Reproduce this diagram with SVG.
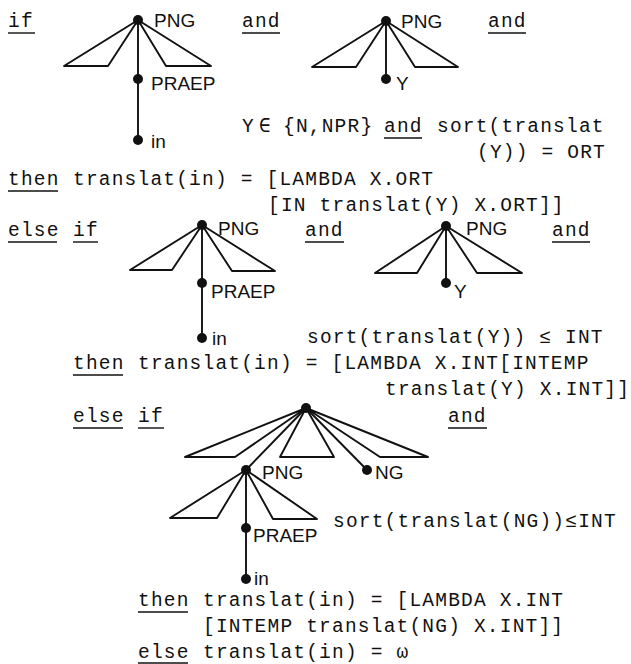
<svg xmlns="http://www.w3.org/2000/svg" width="631" height="664" viewBox="0 0 631 664">
<style>
.m{font-family:"Liberation Mono","Courier New",monospace;font-size:19.5px;letter-spacing:1.2px;fill:#111}
.s{font-family:"Liberation Sans",Arial,sans-serif;font-size:19px;fill:#111}
.ul{stroke:#111;stroke-width:1.4}
.e{stroke:#111;stroke-width:1.9;fill:none;stroke-linejoin:round}
.d{fill:#111}
</style>
<rect width="631" height="664" fill="#fff"/>
<g id="connectors">
<polygon class="e" points="138,20 64,66 108,66"/>
<polygon class="e" points="138,20 166,66 211,66"/>
<line class="e" x1="138" y1="20" x2="138" y2="140"/>
<polygon class="e" points="386,21 312,67 356,67"/>
<polygon class="e" points="386,21 415,67 458,67"/>
<line class="e" x1="386" y1="21" x2="386" y2="79"/>
<polygon class="e" points="202,225 130,270 172,270"/>
<polygon class="e" points="202,225 232,271 275,271"/>
<line class="e" x1="202" y1="225" x2="202" y2="338"/>
<polygon class="e" points="446,226 375,273 417,273"/>
<polygon class="e" points="446,226 477,273 522,273"/>
<line class="e" x1="446" y1="226" x2="446" y2="283"/>
<polygon class="e" points="306,408 185,457 235,457"/>
<line class="e" x1="306" y1="408" x2="246" y2="470"/>
<polygon class="e" points="306,408 280,457 334,457"/>
<line class="e" x1="306" y1="408" x2="367" y2="470"/>
<polygon class="e" points="306,408 380,457 428,457"/>
<polygon class="e" points="246,470 170,518 217,518"/>
<polygon class="e" points="246,470 273,519 317,519"/>
<line class="e" x1="246" y1="470" x2="246" y2="579"/>
</g>
<g id="t1-png"><circle class="d" cx="138" cy="20" r="5"/><text class="s" x="154" y="27">PNG</text></g>
<g id="t1-praep"><circle class="d" cx="138" cy="79" r="5"/><text class="s" x="151" y="90">PRAEP</text></g>
<g id="t1-in"><circle class="d" cx="138" cy="140" r="5"/><text class="s" x="151" y="148">in</text></g>
<g id="t2-png"><circle class="d" cx="386" cy="21" r="5"/><text class="s" x="401" y="28">PNG</text></g>
<g id="t2-y"><circle class="d" cx="386" cy="79" r="5"/><text class="s" x="396" y="90">Y</text></g>
<g id="t3-png"><circle class="d" cx="202" cy="225" r="5"/><text class="s" x="218" y="235">PNG</text></g>
<g id="t3-praep"><circle class="d" cx="202" cy="283" r="5"/><text class="s" x="211" y="298">PRAEP</text></g>
<g id="t3-in"><circle class="d" cx="202" cy="338" r="5"/><text class="s" x="212" y="345">in</text></g>
<g id="t4-png"><circle class="d" cx="446" cy="226" r="5"/><text class="s" x="466" y="235">PNG</text></g>
<g id="t4-y"><circle class="d" cx="446" cy="283" r="5"/><text class="s" x="454" y="298">Y</text></g>
<g id="t5-root"><circle class="d" cx="306" cy="408" r="5"/></g>
<g id="t5-png"><circle class="d" cx="246" cy="470" r="5"/><text class="s" x="262" y="479">PNG</text></g>
<g id="t5-ng"><circle class="d" cx="367" cy="470" r="5"/><text class="s" x="375" y="479">NG</text></g>
<g id="t5-praep"><circle class="d" cx="246" cy="528" r="5"/><text class="s" x="253" y="542">PRAEP</text></g>
<g id="t5-in"><circle class="d" cx="246" cy="579" r="5"/><text class="s" x="254" y="585">in</text></g>
<g id="text">
<text class="m" x="8" y="27">if</text><line class="ul" x1="8" y1="33" x2="35" y2="33"/>
<text class="m" x="242" y="27">and</text><line class="ul" x1="242" y1="33" x2="280" y2="33"/>
<text class="m" x="488" y="27">and</text><line class="ul" x1="488" y1="33" x2="526" y2="33"/>
<text class="m" x="242" y="132">Y</text>
<text class="m" x="259" y="132">∈</text>
<text class="m" x="283" y="132">{N,NPR}</text>
<text class="m" x="384" y="132">and</text><line class="ul" x1="384" y1="138" x2="422" y2="138"/>
<text class="m" x="437" y="132">sort(translat</text>
<text class="m" x="477" y="158">(Y)) = ORT</text>
<text class="m" x="8" y="185">then</text><line class="ul" x1="8" y1="191" x2="58" y2="191"/>
<text class="m" x="73" y="185">translat(in) = [LAMBDA X.ORT</text>
<text class="m" x="268" y="211">[IN translat(Y) X.ORT]]</text>
<text class="m" x="8" y="236">else</text><line class="ul" x1="8" y1="242" x2="57" y2="242"/>
<text class="m" x="73" y="236">if</text><line class="ul" x1="73" y1="242" x2="98" y2="242"/>
<text class="m" x="305" y="236">and</text><line class="ul" x1="305" y1="242" x2="344" y2="242"/>
<text class="m" x="552" y="236">and</text><line class="ul" x1="552" y1="242" x2="590" y2="242"/>
<text class="m" x="307" y="343">sort(translat(Y)) ≤ INT</text>
<text class="m" x="73" y="369">then</text><line class="ul" x1="73" y1="375" x2="123" y2="375"/>
<text class="m" x="138" y="369">translat(in) = [LAMBDA X.INT[INTEMP</text>
<text class="m" x="385" y="395">translat(Y) X.INT]]</text>
<text class="m" x="73" y="422">else</text><line class="ul" x1="73" y1="428" x2="123" y2="428"/>
<text class="m" x="138" y="422">if</text><line class="ul" x1="138" y1="428" x2="164" y2="428"/>
<text class="m" x="448" y="422">and</text><line class="ul" x1="448" y1="428" x2="487" y2="428"/>
<text class="m" x="333" y="527">sort(translat(NG))≤INT</text>
<text class="m" x="138" y="606">then</text><line class="ul" x1="138" y1="612" x2="188" y2="612"/>
<text class="m" x="203" y="606">translat(in) = [LAMBDA X.INT</text>
<text class="m" x="203" y="632">[INTEMP translat(NG) X.INT]]</text>
<text class="m" x="138" y="658">else</text><line class="ul" x1="138" y1="663" x2="188" y2="663"/>
<text class="m" x="203" y="658">translat(in) = ω</text>
</g>
</svg>
